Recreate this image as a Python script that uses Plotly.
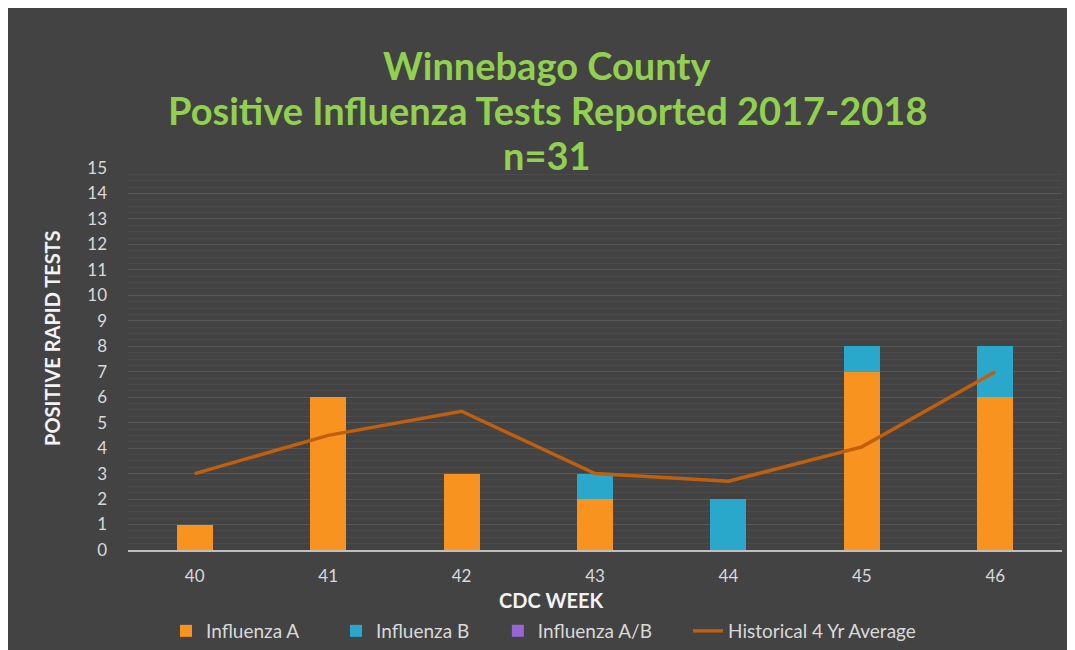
import plotly.graph_objects as go

weeks = ["40", "41", "42", "43", "44", "45", "46"]
flu_a = [1, 6, 3, 2, 0, 7, 6]
flu_b = [0, 0, 0, 1, 2, 1, 2]
flu_ab = [0, 0, 0, 0, 0, 0, 0]
hist_avg = [3.0, 4.5, 5.45, 3.0, 2.7, 4.05, 7.0]
y_ticks = list(range(0, 16))
title_lines = ["Winnebago County", "Positive Influenza Tests Reported 2017-2018", "n=31"]

font_family = "Lato, 'Open Sans', sans-serif"

fig = go.Figure()
fig.add_trace(go.Bar(x=weeks, y=flu_a, name="Influenza A", legend="legend", showlegend=True,
                     marker=dict(color="#f7931e", line=dict(width=0))))
fig.add_trace(go.Bar(x=weeks, y=flu_b, name="Influenza B", legend="legend2", showlegend=True,
                     marker=dict(color="#2aa8cc", line=dict(width=0))))
fig.add_trace(go.Bar(x=weeks, y=flu_ab, name="Influenza A/B", legend="legend3", showlegend=True,
                     marker=dict(color="#9966d6", line=dict(width=0))))
fig.add_trace(go.Scatter(x=weeks, y=hist_avg, name="Historical 4 Yr Average", mode="lines",
                         legend="legend4", showlegend=True, line=dict(color="#c0600e", width=3.5)))


def leg(xpos):
    return dict(orientation="h", x=xpos, xanchor="left", yref="container", y=1 - 623 / 642,
                yanchor="middle", font=dict(size=19, color="#d9d9d9"),
                bgcolor="rgba(0,0,0,0)", itemwidth=30)


title_y = [1.2696, 1.1518, 1.0340]
annotations = [
    dict(text=f"<b>{t}</b>", xref="paper", yref="paper", x=0.449, y=ty,
         xanchor="center", yanchor="middle", showarrow=False,
         font=dict(family=font_family, size=38, color="#92d050"))
    for t, ty in zip(title_lines, title_y)
]
annotations += [
    dict(text="<b>POSITIVE RAPID TESTS</b>", textangle=-90, xref="paper", yref="paper",
         x=-76/934, y=0.555, xanchor="center", yanchor="middle", showarrow=False,
         font=dict(size=20, color="#f2f2f2")),
    dict(text="<b>CDC WEEK</b>", xref="paper", yref="paper",
         x=0.453, y=-0.131, xanchor="center", yanchor="middle", showarrow=False,
         font=dict(size=20, color="#f2f2f2")),
]

fig.update_layout(
    width=1067, height=642,
    showlegend=True,
    barmode="stack", bargap=0.73,
    paper_bgcolor="#434343", plot_bgcolor="rgba(0,0,0,0)",
    margin=dict(l=120, r=13, t=160, b=100),
    font=dict(family=font_family, color="#d9d9d9"),
    xaxis=dict(type="category", range=[-0.5, 6.5], showgrid=False, showline=True,
               linecolor="#bfbfbf", linewidth=2, ticks="", ticklabelstandoff=10,
               tickfont=dict(size=17, color="#d9d9d9")),
    yaxis=dict(range=[0, 15], tickvals=y_ticks, showgrid=True, gridcolor="#575757", gridwidth=1,
               zeroline=False, tickfont=dict(size=17, color="#d9d9d9"), ticklabelstandoff=20,
               minor=dict(dtick=0.25, showgrid=True, gridcolor="#4a4a4a", gridwidth=1)),
    legend=leg(0.0407),
    legend2=leg(0.2227),
    legend3=leg(0.396),
    legend4=leg(0.5996),
    annotations=annotations,
)

fig.write_html("out.html")
